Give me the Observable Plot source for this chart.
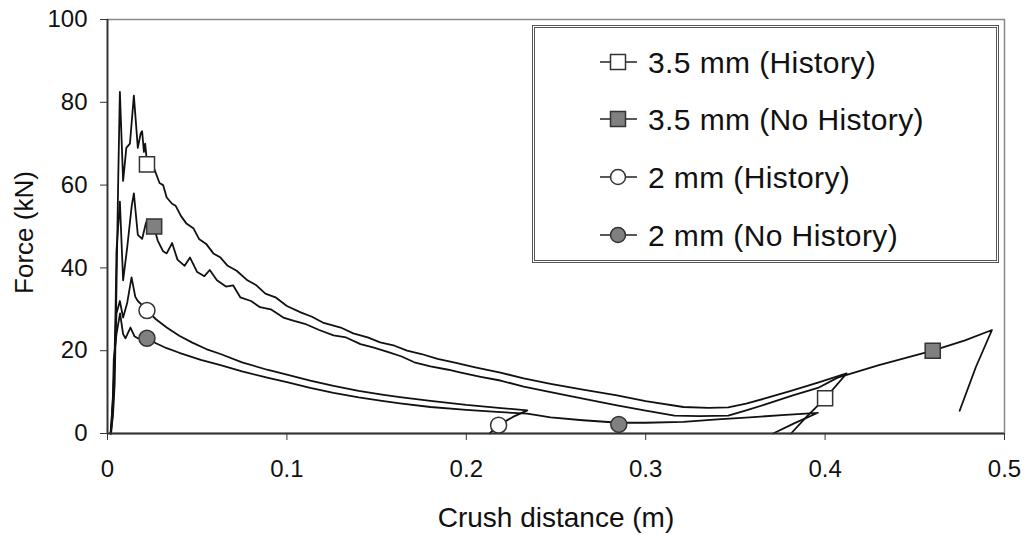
<!DOCTYPE html>
<html><head><meta charset="utf-8">
<script src="https://cdn.jsdelivr.net/npm/d3@7"></script>
<script src="https://cdn.jsdelivr.net/npm/@observablehq/plot@0.6"></script>
<style>
body{margin:0;background:#fff;}
#wrap{position:relative;width:1025px;height:535px;}
#legend{position:absolute;left:532px;top:25px;width:461px;height:232px;border:3px double #555;background:#fff;}
#legend svg{display:block}
</style></head>
<body><div id="wrap"><div id="legend"></div></div>
<script>
// ---- data (crush distance in m, force in kN) ----
const seriesNames = ["3.5 mm (History)", "3.5 mm (No History)", "2 mm (History)", "2 mm (No History)"];
const xTicks = [0, 0.1, 0.2, 0.3, 0.4, 0.5];
const yTicks = [0, 20, 40, 60, 80, 100];

const x35H = [0.0017,0.003,0.004,0.005,0.006,0.0069,0.0087,0.0105,0.0125,0.0147,0.0169,0.0185,0.0193,0.0203,0.021,0.0221,0.026,0.029,0.031,0.033,0.036,0.038,0.041,0.044,0.048,0.051,0.055,0.059,0.063,0.067,0.072,0.078,0.083,0.088,0.094,0.1,0.108,0.114,0.12,0.13,0.137,0.145,0.152,0.16,0.167,0.175,0.184,0.193,0.205,0.219,0.232,0.247,0.265,0.284,0.3,0.321,0.335,0.346,0.356,0.366,0.38,0.396,0.412,0.4,0.39,0.381];
const f35H = [0,4,12,35,62,82.5,61,69,70,81.6,69,72.5,73,68,70,65,64,60.5,60,57,55.5,55,52.5,50.7,49.5,47,45.8,43.5,42.5,40.5,39.3,37,35.8,33.8,32.8,30.8,29.2,28.2,26.8,25.6,24.2,23.2,22,21.2,20,19.2,18,17.2,16,14.7,13.3,12,10.6,9.2,7.8,6.4,6.2,6.3,7.2,8.4,10.2,12.3,14.5,8.5,4.2,0];

const x35N = [0.002,0.0035,0.0045,0.005,0.0069,0.0087,0.011,0.0135,0.0147,0.0169,0.0193,0.0215,0.0258,0.028,0.031,0.033,0.036,0.039,0.043,0.046,0.05,0.054,0.057,0.061,0.066,0.07,0.074,0.08,0.085,0.091,0.098,0.104,0.11,0.118,0.126,0.133,0.141,0.148,0.157,0.164,0.171,0.18,0.19,0.197,0.208,0.219,0.232,0.247,0.265,0.284,0.3,0.316,0.33,0.346,0.356,0.368,0.382,0.396,0.407,0.43,0.46,0.478,0.493,0.484,0.475];
const f35N = [0,10,30,44,56,37,45,55,58,48,47,51,50,46.6,44,43.5,46,42,40.5,42.5,39,38,39.5,37,35.5,35.8,32.9,32,30.5,30,28,27.2,26.5,25,23.7,23.2,21.6,20.8,19.6,18.6,17.2,16.2,15.4,14.7,13.7,12.8,11.3,10,8.4,6.8,5.5,4.3,4.2,4.3,5.6,7.2,9.2,11,13.5,16.5,20,22.5,25,16,5.5];

const x2H = [0.0017,0.003,0.004,0.005,0.0069,0.0087,0.011,0.0134,0.0155,0.0169,0.0193,0.0221,0.027,0.033,0.04,0.047,0.055,0.063,0.075,0.089,0.1,0.113,0.126,0.14,0.153,0.163,0.18,0.2,0.218,0.234,0.226,0.218,0.213];
const f2H = [0,8,18,29,32,28,31.6,37.7,33,32,31,29.7,27.6,25.6,23.6,22,20.4,19.2,17.2,15.4,14.2,12.8,11.5,10.3,9.4,8.8,7.9,6.9,6.2,5.6,4,2,0];

const x2N = [0.002,0.003,0.0035,0.005,0.007,0.0087,0.01,0.0128,0.015,0.0169,0.0221,0.027,0.033,0.04,0.052,0.063,0.075,0.089,0.1,0.113,0.126,0.14,0.153,0.163,0.18,0.2,0.217,0.234,0.247,0.265,0.285,0.3,0.321,0.34,0.358,0.378,0.396,0.383,0.371];
const f2N = [0,9,18,24,29,24,23,25.6,23.5,23,23,21.8,20.6,19.5,17.8,16.5,15,13.5,12.4,11,9.8,8.7,7.9,7.3,6.4,5.7,5.2,4.8,3.9,3.2,2.6,2.6,2.8,3.4,3.9,4.5,5,2.5,0];

// marker positions
const m35Hx = [0.022, 0.4],  m35Hy = [65, 8.5];
const m35Nx = [0.026, 0.46], m35Ny = [50, 20];
const m2Hx  = [0.022, 0.218], m2Hy = [29.7, 2];
const m2Nx  = [0.022, 0.285], m2Ny = [23, 2.2];

// ---- build tables ----
const toRows = (name, xs, ys) => xs.map((x, i) => ({series: name, x, y: ys[i]}));
const lineRows = [
  ...toRows(seriesNames[0], x35H, f35H),
  ...toRows(seriesNames[1], x35N, f35N),
  ...toRows(seriesNames[2], x2H, f2H),
  ...toRows(seriesNames[3], x2N, f2N)
];
const sqWhite = toRows(seriesNames[0], m35Hx, m35Hy);
const sqGray = toRows(seriesNames[1], m35Nx, m35Ny);
const ciWhite = toRows(seriesNames[2], m2Hx, m2Hy);
const ciGray = toRows(seriesNames[3], m2Nx, m2Ny);

const FONT = "'Liberation Sans', Arial, Helvetica, sans-serif";
const GRAY = "#808080";

const chart = Plot.plot({
  width: 1025, height: 535,
  marginLeft: 107, marginRight: 21, marginTop: 19, marginBottom: 102,
  x: {domain: [0, 0.5]},
  y: {domain: [0, 100]},
  style: {fontFamily: FONT, fontSize: "24px", color: "#000", background: "#fff"},
  marks: [
    Plot.frame({stroke: "#888", strokeWidth: 1.5}),
    Plot.line(lineRows, {x: "x", y: "y", z: "series", stroke: "#111", strokeWidth: 1.8}),
    Plot.dot(sqWhite, {x: "x", y: "y", symbol: "square", r: 8.5, fill: "white", stroke: "#333", strokeWidth: 1.5}),
    Plot.dot(sqGray, {x: "x", y: "y", symbol: "square", r: 8.5, fill: GRAY, stroke: "#333", strokeWidth: 1.5}),
    Plot.dot(ciWhite, {x: "x", y: "y", r: 8, fill: "white", stroke: "#333", strokeWidth: 1.5}),
    Plot.dot(ciGray, {x: "x", y: "y", r: 8, fill: GRAY, stroke: "#333", strokeWidth: 1.5}),
    Plot.axisX({ticks: xTicks, tickSize: 7, tickPadding: 19, tickFormat: d => String(d), label: null, fontSize: 24, stroke: "#333", fill: "#111"}),
    Plot.axisY({ticks: yTicks, tickSize: 7, tickPadding: 13, tickFormat: d => String(d), label: null, fontSize: 24, stroke: "#333", fill: "#111"}),
    Plot.ruleX([0], {stroke: "#333", strokeWidth: 1.8}),
    Plot.ruleY([0], {stroke: "#333", strokeWidth: 1.8}),
    Plot.text(["Crush distance (m)"], {frameAnchor: "bottom", textAnchor: "middle", lineAnchor: "middle", dy: 85, fontSize: 28, fill: "#111"}),
    Plot.text(["Force (kN)"], {frameAnchor: "left", textAnchor: "middle", lineAnchor: "middle", rotate: -90, dx: -83, dy: 6, fontSize: 26, fill: "#111"})
  ]
});
document.getElementById("wrap").prepend(chart);

// ---- legend ----
const legendSymbols = [
  {shape: "square", fill: "white"},
  {shape: "square", fill: GRAY},
  {shape: "circle", fill: "white"},
  {shape: "circle", fill: GRAY}
];
const rowCenters = [34, 91, 149, 207];
let svg = `<svg width="461" height="232" xmlns="http://www.w3.org/2000/svg" font-family="${FONT}">`;
seriesNames.forEach((name, i) => {
  const cy = rowCenters[i];
  const s = legendSymbols[i];
  svg += `<line x1="65" x2="102" y1="${cy}" y2="${cy}" stroke="#222" stroke-width="1.6"/>`;
  if (s.shape === "square") svg += `<rect x="${83-7.5}" y="${cy-7.5}" width="15" height="15" fill="${s.fill}" stroke="#333" stroke-width="1.5"/>`;
  else svg += `<circle cx="83" cy="${cy}" r="7.5" fill="${s.fill}" stroke="#333" stroke-width="1.5"/>`;
  svg += `<text x="113" y="${cy + 10.5}" font-size="30" letter-spacing="0.4" fill="#111">${name}</text>`;
});
svg += `</svg>`;
document.getElementById("legend").innerHTML = svg;
</script>
</body></html>
